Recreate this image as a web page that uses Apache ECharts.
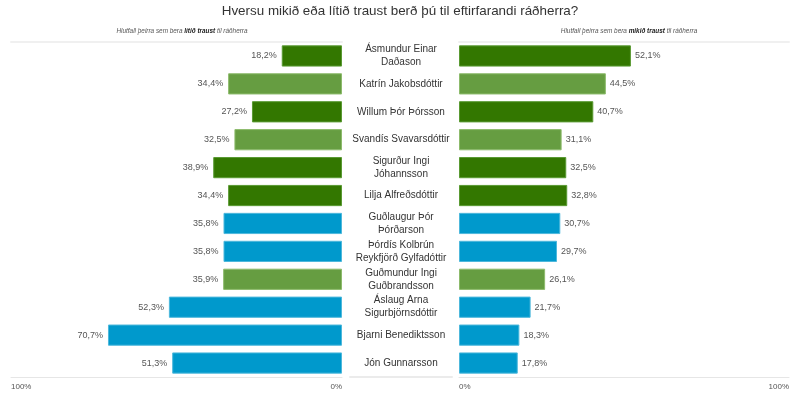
<!DOCTYPE html>
<html><head><meta charset="utf-8">
<script src="https://cdn.jsdelivr.net/npm/echarts@6/dist/echarts.min.js"></script>
<style>html,body{margin:0;padding:0;background:#fff}#c{width:800px;height:396px}</style>
</head><body><div id="c"></div>
<script>
const categories = [
  'Ásmundur Einar\nDaðason', 'Katrín Jakobsdóttir', 'Willum Þór Þórsson', 'Svandís Svavarsdóttir',
  'Sigurður Ingi\nJóhannsson', 'Lilja Alfreðsdóttir', 'Guðlaugur Þór\nÞórðarson',
  'Þórdís Kolbrún\nReykfjörð Gylfadóttir', 'Guðmundur Ingi\nGuðbrandsson', 'Áslaug Arna\nSigurbjörnsdóttir',
  'Bjarni Benediktsson', 'Jón Gunnarsson'
];
const littleTrust = [18.2, 34.4, 27.2, 32.5, 38.9, 34.4, 35.8, 35.8, 35.9, 52.3, 70.7, 51.3];
const muchTrust   = [52.1, 44.5, 40.7, 31.1, 32.5, 32.8, 30.7, 29.7, 26.1, 21.7, 18.3, 17.8];
const party = ['B', 'V', 'B', 'V', 'B', 'B', 'D', 'D', 'V', 'D', 'D', 'D'];
const partyColor = { B: '#337700', V: '#669d41', D: '#0099cc' };
const partyBorder = { B: '#5a9a33', V: '#8dbb6c', D: '#4db8dc' };
const axisTicks = [0, 100];

const fnt = 'Liberation Sans, Arial, sans-serif';
function items(vals) {
  return vals.map((v, i) => ({ value: v, itemStyle: { color: partyColor[party[i]], borderColor: partyBorder[party[i]], borderWidth: 1 } }));
}
const fmt = p => String(p.value).replace('.', ',') + '%';
const pct = v => (axisTicks.includes(v) ? v + '%' : '');
const subI = { fontFamily: fnt, fontSize: 6.4, fontStyle: 'italic', fontWeight: 'normal', color: '#555' };
const subB = { fontFamily: fnt, fontSize: 6.4, fontStyle: 'italic', fontWeight: 'bold', color: '#222' };

const gridTop = 42, gridBottom = 19;
const chart = echarts.init(document.getElementById('c'), null, { renderer: 'canvas' });
chart.setOption({
  animation: false,
  backgroundColor: '#fff',
  title: [
    { text: 'Hversu mikið eða lítið traust berð þú til eftirfarandi ráðherra?', left: 'center', top: 0,
      textStyle: { fontFamily: fnt, fontSize: 13.4, fontWeight: 'normal', color: '#333' } },
    { text: '{i|Hlutfall þeirra sem bera }{b|lítið traust}{i| til ráðherra}', left: 177, top: 23, textAlign: 'center',
      textStyle: { fontWeight: 'normal', rich: { i: subI, b: subB } } },
    { text: '{i|Hlutfall þeirra sem bera }{b|mikið traust}{i| til ráðherra}', left: 624, top: 23, textAlign: 'center',
      textStyle: { fontWeight: 'normal', rich: { i: subI, b: subB } } }
  ],
  grid: [
    { left: 11, right: 800 - 342, top: gridTop, bottom: gridBottom },
    { left: 459, right: 800 - 789, top: gridTop, bottom: gridBottom },
    { left: 350, right: 800 - 452, top: gridTop, bottom: gridBottom }
  ],
  xAxis: [
    { gridIndex: 0, type: 'value', min: 0, max: 100, interval: 100, inverse: true, position: 'bottom',
      axisLine: { show: true, lineStyle: { color: '#e6e6e6', width: 1 } }, axisTick: { show: false }, splitLine: { show: false },
      axisLabel: { formatter: pct, fontFamily: fnt, fontSize: 8, color: '#555', margin: 6, alignMinLabel: 'right', alignMaxLabel: 'left' } },
    { gridIndex: 1, type: 'value', min: 0, max: 100, interval: 100, position: 'bottom',
      axisLine: { show: true, lineStyle: { color: '#e6e6e6', width: 1 } }, axisTick: { show: false }, splitLine: { show: false },
      axisLabel: { formatter: pct, fontFamily: fnt, fontSize: 8, color: '#555', margin: 6, alignMinLabel: 'left', alignMaxLabel: 'right' } },
    { gridIndex: 2, type: 'value', min: 0, max: 100, position: 'bottom',
      axisLine: { show: true, lineStyle: { color: '#ebebeb', width: 2 } }, axisTick: { show: false }, splitLine: { show: false }, axisLabel: { show: false } },
    { gridIndex: 0, type: 'value', min: 0, max: 100, position: 'top',
      axisLine: { show: true, lineStyle: { color: '#f0f0f0', width: 2 } }, axisTick: { show: false }, splitLine: { show: false }, axisLabel: { show: false } },
    { gridIndex: 1, type: 'value', min: 0, max: 100, position: 'top',
      axisLine: { show: true, lineStyle: { color: '#f0f0f0', width: 2 } }, axisTick: { show: false }, splitLine: { show: false }, axisLabel: { show: false } }
  ],
  yAxis: [
    { gridIndex: 0, type: 'category', data: categories, inverse: true, position: 'right',
      axisLine: { show: false }, axisTick: { show: false },
      axisLabel: { margin: 59, align: 'center', fontFamily: fnt, fontSize: 10, color: '#333', lineHeight: 13 } },
    { gridIndex: 1, type: 'category', data: categories, inverse: true, axisLine: { show: false }, axisTick: { show: false }, axisLabel: { show: false } },
    { gridIndex: 2, type: 'category', data: categories, inverse: true, show: false }
  ],
  series: [
    { type: 'bar', xAxisIndex: 0, yAxisIndex: 0, data: items(littleTrust), barCategoryGap: '24%',
      label: { show: true, position: 'left', distance: 5, formatter: fmt, fontFamily: fnt, fontSize: 9, color: '#555' } },
    { type: 'bar', xAxisIndex: 1, yAxisIndex: 1, data: items(muchTrust), barCategoryGap: '24%',
      label: { show: true, position: 'right', distance: 4, formatter: fmt, fontFamily: fnt, fontSize: 9, color: '#555' } }
  ]
});
</script>
</body></html>
